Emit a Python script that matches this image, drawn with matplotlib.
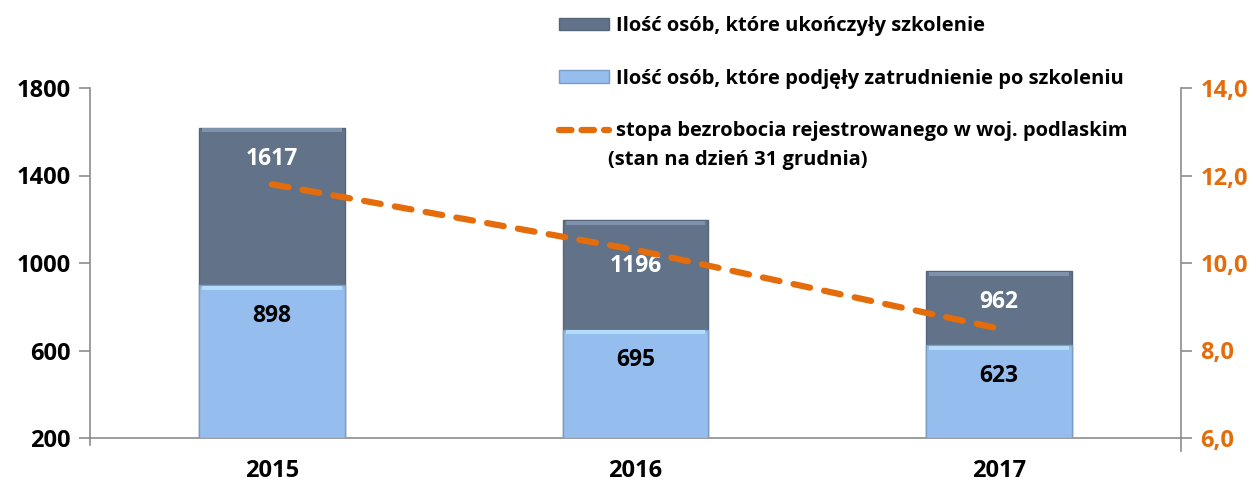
import numpy as np
import matplotlib.pyplot as plt
from matplotlib.patches import Patch
from matplotlib.lines import Line2D

plt.rcParams['font.family'] = ['Open Sans', 'DejaVu Sans']
plt.rcParams['font.weight'] = 'bold'

years = ['2015', '2016', '2017']
completed = [1617, 1196, 962]   # Ilość osób, które ukończyły szkolenie
employed = [898, 695, 623]      # Ilość osób, które podjęły zatrudnienie
unemployment = [11.8, 10.3, 8.5]  # stopa bezrobocia, woj. podlaskie

dark = '#627389'
light = '#95BDEE'
orange = '#E46C0A'
axis_grey = '#8C8C8C'

fig = plt.figure(figsize=(12.55, 4.82), dpi=100)
ax = fig.add_axes([90 / 1255, 44 / 482, 1091 / 1255, 350 / 482])

x = np.arange(len(years))
width = 0.4
base = 200

# dark bars (total) behind, light bars in front
ax.bar(x, np.array(completed) - base, width, bottom=base, color=dark,
       edgecolor='#56667A', linewidth=1.0, zorder=2)
ax.bar(x, 18, width * 0.96, bottom=np.array(completed) - 20, color='#7F92AC',
       linewidth=0, zorder=2)
ax.bar(x, np.array(employed) - base, width, bottom=base, color=light,
       edgecolor='#7B9CC4', linewidth=1.0, zorder=3)
ax.bar(x, 18, width * 0.96, bottom=np.array(employed) - 20, color='#B5DBFA',
       linewidth=0, zorder=3)

# label offsets below bar top (points); 2016 moved down to clear the line
top_offsets = [-22, -33, -22]
for xi, v, off in zip(x, completed, top_offsets):
    ax.annotate(str(v), (xi, v), xytext=(0, off), textcoords='offset points',
                ha='center', va='center', color='white',
                fontsize=16.5, fontweight='bold', zorder=5)
for xi, v in zip(x, employed):
    ax.annotate(str(v), (xi, v), xytext=(0, -22), textcoords='offset points',
                ha='center', va='center', color='black',
                fontsize=16.5, fontweight='bold', zorder=5)

ax.set_xlim(-0.5, 2.5)
ax.set_ylim(200, 1800)
ax.set_yticks([200, 600, 1000, 1400, 1800])
ax.set_xticks(x)
ax.set_xticklabels(years)
ax.tick_params(axis='x', length=0, pad=15, labelsize=17)
ax.tick_params(axis='y', direction='out', length=8, width=1.2,
               color=axis_grey, labelsize=17, pad=6)
for s in ['top', 'right']:
    ax.spines[s].set_visible(False)
ax.spines['left'].set_color(axis_grey)
ax.spines['bottom'].set_color(axis_grey)
ax.spines['left'].set_linewidth(1.2)
ax.spines['bottom'].set_linewidth(1.2)
ax.spines['left'].set_bounds(170, 1800)

ax2 = ax.twinx()
ax2.set_ylim(6, 14)
ax2.set_yticks([6, 8, 10, 12, 14])
ax2.set_yticklabels(['6,0', '8,0', '10,0', '12,0', '14,0'])
ax2.plot(x, unemployment, color=orange, linewidth=4.5, linestyle=(0, (2.7, 2.3)),
         dash_capstyle='round', zorder=6)
ax2.tick_params(axis='y', direction='out', length=8, width=1.2,
                color=axis_grey, labelsize=17, labelcolor=orange, pad=6)
for s in ['top', 'left', 'bottom']:
    ax2.spines[s].set_visible(False)
ax2.spines['right'].set_color(axis_grey)
ax2.spines['right'].set_linewidth(1.2)
ax2.spines['right'].set_bounds(5.7, 14)

handles = [
    Patch(facecolor=dark, edgecolor='#56667A'),
    Patch(facecolor=light, edgecolor='#7B9CC4'),
    Line2D([0], [0], color=orange, linewidth=4.5, linestyle=(0, (2.0, 1.6)),
           dash_capstyle='round'),
]
labels = [
    'Ilość osób, które ukończyły szkolenie',
    'Ilość osób, które podjęły zatrudnienie po szkoleniu',
    'stopa bezrobocia rejestrowanego w woj. podlaskim',
]
fig.legend(handles, labels, loc='upper left', bbox_to_anchor=(543 / 1255, 1.0),
           frameon=False, fontsize=14.5, handlelength=2.5, handleheight=0.6,
           handletextpad=0.3, labelspacing=1.62, borderaxespad=0.4)
fig.text(608 / 1255, 1 - 160 / 482, '(stan na dzień 31 grudnia)',
         fontsize=14.5, fontweight='bold', va='center', ha='left')

fig.savefig('out.png', dpi=100)
